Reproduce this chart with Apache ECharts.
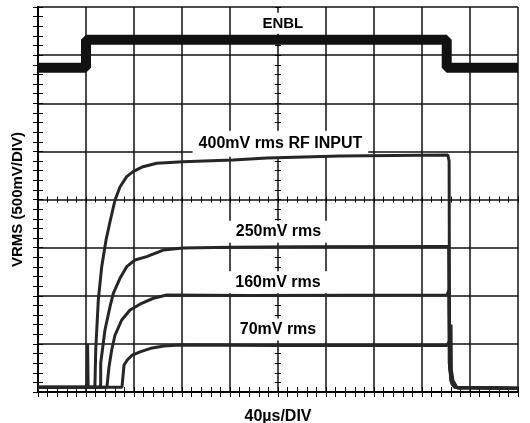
<!DOCTYPE html>
<html><head><meta charset="utf-8">
<script src="https://cdn.jsdelivr.net/npm/echarts@6/dist/echarts.min.js"></script>
<style>html,body{margin:0;padding:0;background:#fff}#c{width:530px;height:423px}</style>
</head><body><div id="c"></div>
<script>
// time in µs (40 µs/div), level in V (500 mV/div)
const enblT = [0, 40, 40, 340.6, 340.6, 400];
const enblV = [3.37, 3.37, 3.66, 3.66, 3.37, 3.37];

const rf400T = [0, 40.8, 41.3, 41.8, 47.3, 47.5, 48.1, 50.25, 53.1, 56.7, 60, 64.2, 68.3, 73.9, 79.2, 87.5, 98.9, 120.8, 162.5, 190.8, 251.7, 341.5, 342.6, 343.0, 345, 350, 400];
const rf400V = [0.05, 0.05, 0.50, 0.05, 0.05, 0.094, 0.436, 0.956, 1.302, 1.579, 1.769, 1.995, 2.130, 2.237, 2.289, 2.341, 2.376, 2.393, 2.410, 2.431, 2.452, 2.462, 2.40, 0.25, 0.08, 0.04, 0.04];

const rf250T = [0, 52.0, 52.25, 52.25, 55.8, 60, 62.75, 68.3, 73.9, 80.8, 90.6, 104.4, 120.8, 160, 218, 342.2, 342.7, 345, 348, 400];
const rf250V = [0.05, 0.05, 0.094, 0.30, 0.644, 0.886, 1.025, 1.181, 1.302, 1.371, 1.406, 1.475, 1.496, 1.503, 1.508, 1.512, 0.30, 0.10, 0.05, 0.04];

const rf160T = [0, 57.5, 57.75, 59.2, 61.4, 64.2, 69.75, 76.7, 86.4, 96.1, 107.25, 176.7, 340.8, 342.5, 343.0, 344, 347, 400];
const rf160V = [0.05, 0.05, 0.090, 0.263, 0.436, 0.592, 0.748, 0.852, 0.922, 0.974, 1.008, 1.003, 1.008, 1.06, 0.30, 0.12, 0.05, 0.04];

const rf70T = [0, 70.0, 71.7, 74.4, 78.6, 85.6, 93.9, 105, 118.9, 200, 340.8, 343.8, 344.2, 344.5, 345.8, 349, 400];
const rf70V = [0.05, 0.05, 0.281, 0.332, 0.384, 0.419, 0.454, 0.478, 0.488, 0.483, 0.483, 0.55, 0.70, 0.23, 0.12, 0.05, 0.04];

const labelTexts = ['ENBL', '400mV rms RF INPUT', '250mV rms', '160mV rms', '70mV rms'];
const labelAnchorT = [204, 202, 200.4, 200, 200];
const labelAnchorV = [3.83, 2.58, 1.665, 1.14, 0.65];

const xTitle = '40µs/DIV';
const yTitle = 'VRMS (500mV/DIV)';

const zip = (a, b) => a.map((x, i) => [x, b[i]]);
const FONT = '"Liberation Sans", Arial, sans-serif';

const chart = echarts.init(document.getElementById('c'), null, {renderer: 'canvas'});

const gridH = 385, gridW = 480;
const tickIn = {show: true, inside: false, length: -5, lineStyle: {color: '#000', width: 1}};
function xAx(pos, extra) {
  return Object.assign({
    type: 'value', min: 0, max: 400, interval: 40, position: pos,
    axisLine: {show: true, lineStyle: {color: '#000', width: 2}},
    axisTick: tickIn,
    minorTick: Object.assign({}, tickIn, {splitNumber: 5}),
    axisLabel: {show: false}, splitLine: {show: false}
  }, extra || {});
}
function yAx(pos, extra) {
  return Object.assign({
    type: 'value', min: 0, max: 4, interval: 0.5, position: pos,
    axisLine: {show: true, lineStyle: {color: '#000', width: 2}},
    axisTick: tickIn,
    minorTick: Object.assign({}, tickIn, {splitNumber: 5}),
    axisLabel: {show: false}, splitLine: {show: false}
  }, extra || {});
}
const centerA = {show: true, inside: false, length: 3, lineStyle: {color: '#000', width: 1}};
const centerB = {show: true, inside: false, length: -3, lineStyle: {color: '#000', width: 1}};
const nameStyle = {fontFamily: FONT, fontWeight: 'bold', fontSize: 15, color: '#000'};

const traceStyle = (w, c) => ({
  type: 'line', showSymbol: false, symbol: 'none', smooth: false, animation: false,
  lineStyle: {width: w, color: c}, xAxisIndex: 0, yAxisIndex: 0, z: 3
});

chart.setOption({
  animation: false,
  backgroundColor: '#fff',
  grid: {left: 38, top: 7, width: gridW, height: gridH, containLabel: false, outerBoundsMode: 'none'},
  xAxis: [
    xAx('bottom', {
      splitLine: {show: true, lineStyle: {color: '#111', width: 1.5}},
      name: xTitle, nameLocation: 'middle', nameGap: 17,
      nameTextStyle: Object.assign({}, nameStyle, {fontSize: 16})
    }),
    xAx('top'),
    xAx('bottom', {offset: -gridH / 2, axisLine: {show: false}, axisTick: centerA, minorTick: Object.assign({}, centerA, {splitNumber: 5})}),
    xAx('bottom', {offset: -gridH / 2, axisLine: {show: false}, axisTick: centerB, minorTick: Object.assign({}, centerB, {splitNumber: 5})})
  ],
  yAxis: [
    yAx('left', {
      splitLine: {show: true, lineStyle: {color: '#111', width: 1.5}},
      name: yTitle, nameLocation: 'middle', nameGap: 13, nameRotate: 90,
      nameTextStyle: nameStyle
    }),
    yAx('right'),
    yAx('left', {offset: -gridW / 2, axisLine: {show: false}, axisTick: centerA, minorTick: Object.assign({}, centerA, {splitNumber: 5})}),
    yAx('left', {offset: -gridW / 2, axisLine: {show: false}, axisTick: centerB, minorTick: Object.assign({}, centerB, {splitNumber: 5})})
  ],
  series: [
    Object.assign(traceStyle(10, '#111'), {name: 'ENBL', data: zip(enblT, enblV)}),
    Object.assign(traceStyle(3, '#262626'), {name: '400mV', data: zip(rf400T, rf400V)}),
    Object.assign(traceStyle(3, '#262626'), {name: '250mV', data: zip(rf250T, rf250V)}),
    Object.assign(traceStyle(3, '#262626'), {name: '160mV', data: zip(rf160T, rf160V)}),
    Object.assign(traceStyle(3, '#262626'), {name: '70mV', data: zip(rf70T, rf70V)})
  ]
});

const pads = [[2, 6, 4, 6], [7, 6, 3, 6], [3, 8, 3, 8], [3, 8, 3, 8], [3, 8, 3, 8]];
const sizes = [15, 16, 16, 16, 16];
chart.setOption({
  graphic: labelTexts.map((t, i) => {
    const p = chart.convertToPixel({gridIndex: 0}, [labelAnchorT[i], labelAnchorV[i]]);
    return {
      type: 'text', x: p[0], y: p[1], z: 1, silent: true,
      style: {
        text: t, fill: '#000', font: 'bold ' + sizes[i] + 'px ' + FONT,
        align: 'center', verticalAlign: 'middle',
        backgroundColor: '#fff', padding: pads[i]
      }
    };
  })
});
</script></body></html>
